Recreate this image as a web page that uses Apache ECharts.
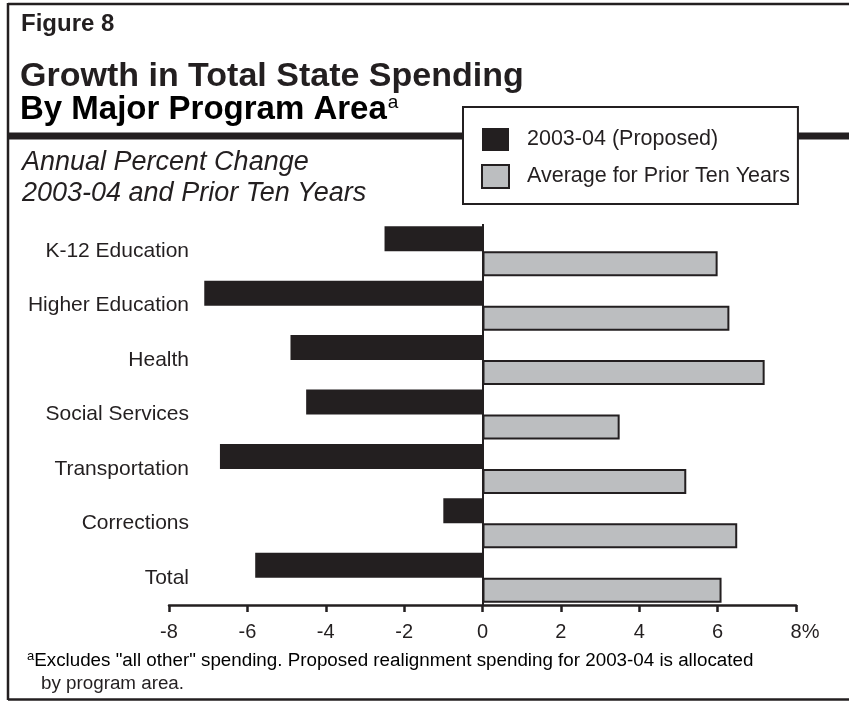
<!DOCTYPE html>
<html>
<head>
<meta charset="utf-8">
<script src="https://cdn.jsdelivr.net/npm/echarts@6/dist/echarts.min.js"></script>
<style>
  html, body { margin: 0; padding: 0; background: #fff; }
  #chart { width: 849px; height: 701px; }
</style>
</head>
<body>
<div id="chart"></div>
<script>
// Program areas, top to bottom
var categories = ['K-12 Education', 'Higher Education', 'Health', 'Social Services',
                  'Transportation', 'Corrections', 'Total'];
// Annual percent change, 2003-04 proposed budget
var proposed = [-2.5, -7.1, -4.9, -4.5, -6.7, -1.0, -5.8];
// Average annual percent change over the prior ten years
var priorTenYears = [6.0, 6.3, 7.2, 3.5, 5.2, 6.5, 6.1];
// Axis ticks (percent)
var axisMin = -8, axisMax = 8, axisStep = 2;

var seriesNames = ['2003-04 (Proposed)', 'Average for Prior Ten Years'];

var INK = '#231f20';
var GRAY = '#bcbec0';
var FONT = '"Liberation Sans", Arial, Helvetica, sans-serif';

var chart = echarts.init(document.getElementById('chart'), null, { renderer: 'canvas' });

chart.setOption({
  backgroundColor: '#ffffff',
  animation: false,
  textStyle: { fontFamily: FONT, color: INK },
  grid: { left: 169, right: 53, top: 224, bottom: 96, containLabel: false },
  legend: {
    data: seriesNames,
    orient: 'vertical',
    left: 463,
    top: 107,
    z: 100,
    icon: 'rect',
    itemWidth: 27,
    itemHeight: 23,
    itemGap: 12,
    padding: [20, 8, 15, 18],
    backgroundColor: '#ffffff',
    borderColor: INK,
    borderWidth: 2,
    selectedMode: false,
    textStyle: { fontFamily: FONT, fontSize: 21.5, color: INK, padding: [2, 0, 0, 13], lineHeight: 23 }
  },
  xAxis: {
    type: 'value',
    min: axisMin,
    max: axisMax,
    interval: axisStep,
    axisLine: { show: true, onZero: false, lineStyle: { color: INK, width: 2.5 } },
    axisTick: { show: true, length: 7, lineStyle: { color: INK, width: 2.5 } },
    splitLine: { show: false },
    axisLabel: {
      fontFamily: FONT,
      fontSize: 20,
      color: INK,
      margin: 17,
      formatter: function (v) {
        return v === axisMax ? '{last|' + v + '%}' : String(v);
      },
      rich: {
        last: { fontFamily: FONT, fontSize: 20, color: INK, padding: [0, 0, 0, 18] }
      }
    }
  },
  yAxis: {
    type: 'category',
    data: categories,
    inverse: true,
    axisLine: { show: false, onZero: false },
    axisTick: { show: false },
    splitLine: { show: false },
    axisLabel: { fontFamily: FONT, fontSize: 21, color: INK, margin: -20 }
  },
  series: [
    {
      name: seriesNames[0],
      type: 'bar',
      data: proposed,
      barWidth: 25,
      barGap: '0%',
      itemStyle: { color: INK },
      markLine: {
        silent: true,
        symbol: 'none',
        label: { show: false },
        lineStyle: { color: INK, width: 2, type: 'solid' },
        data: [{ xAxis: 0 }]
      }
    },
    {
      name: seriesNames[1],
      type: 'bar',
      data: priorTenYears,
      barWidth: 25,
      barGap: '0%',
      itemStyle: { color: GRAY, borderColor: INK, borderWidth: 2 }
    }
  ],
  graphic: [
    // frame
    { type: 'line', z: 1, shape: { x1: 8, y1: 4, x2: 849, y2: 4 }, style: { stroke: INK, lineWidth: 2.5 } },
    { type: 'line', z: 1, shape: { x1: 8, y1: 3, x2: 8, y2: 700 }, style: { stroke: INK, lineWidth: 2.5 } },
    { type: 'line', z: 1, shape: { x1: 8, y1: 699.5, x2: 849, y2: 699.5 }, style: { stroke: INK, lineWidth: 2.5 } },
    // heavy rule under the title
    { type: 'line', z: 1, shape: { x1: 8, y1: 136, x2: 849, y2: 136 }, style: { stroke: INK, lineWidth: 7 } },
    // headings
    { type: 'text', z: 2, left: 21, top: 12,
      style: { text: 'Figure 8', font: 'bold 24px ' + FONT, fill: INK } },
    { type: 'text', z: 2, left: 20, top: 60,
      style: { text: 'Growth in Total State Spending', font: 'bold 34px ' + FONT, fill: INK } },
    { type: 'text', z: 2, left: 20, top: 93,
      style: {
        text: '{m|By Major Program Area}{s|a}',
        rich: {
          m: { fontSize: 33, fontWeight: 'bold', fontFamily: FONT, color: INK },
          s: { fontSize: 19, fontFamily: FONT, color: INK, verticalAlign: 'top', padding: [0, 0, 14, 1] }
        }
      } },
    { type: 'text', z: 2, left: 22, top: 149,
      style: { text: 'Annual Percent Change', font: 'italic 27px ' + FONT, fill: INK } },
    { type: 'text', z: 2, left: 22, top: 180,
      style: { text: '2003-04 and Prior Ten Years', font: 'italic 27px ' + FONT, fill: INK } },
    // footnote
    { type: 'text', z: 2, left: 27, top: 650,
      style: {
        text: '{s|a}{t|Excludes "all other" spending. Proposed realignment spending for 2003-04 is allocated}',
        rich: {
          s: { fontSize: 13, fontFamily: FONT, color: INK, verticalAlign: 'top', padding: [0, 0, 8, 0] },
          t: { fontSize: 18.8, fontFamily: FONT, color: INK }
        }
      } },
    { type: 'text', z: 2, left: 41, top: 674,
      style: { text: 'by program area.', font: '18.8px ' + FONT, fill: INK } }
  ]
});
</script>
</body>
</html>
